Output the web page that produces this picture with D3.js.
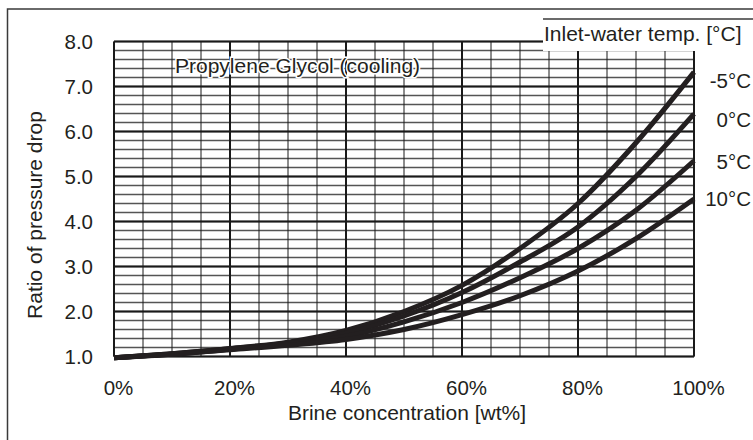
<!DOCTYPE html>
<html>
<head>
<meta charset="utf-8">
<script src="https://cdn.jsdelivr.net/npm/d3@7"></script>
<style>
  body { margin: 0; background: #fff; }
  svg text { font-family: "Liberation Sans", Arial, Helvetica, sans-serif; fill: #231f20; }
</style>
</head>
<body>
<div id="chart"></div>
<script>
// brine concentration [wt%] and pressure drop ratio per inlet-water temperature
const concentration = [0, 10, 20, 30, 40, 50, 60, 70, 80, 90, 100];
const tempLabels = ["-5°C", "0°C", "5°C", "10°C"];
const ratioMinus5 = [0.97, 1.06, 1.18, 1.32, 1.58, 2.0, 2.58, 3.4, 4.4, 5.75, 7.32];
const ratio0 = [0.97, 1.06, 1.17, 1.30, 1.52, 1.9, 2.42, 3.1, 3.88, 5.0, 6.39];
const ratio5 = [0.97, 1.05, 1.16, 1.28, 1.45, 1.77, 2.2, 2.75, 3.4, 4.25, 5.35];
const ratio10 = [0.97, 1.05, 1.15, 1.25, 1.38, 1.6, 1.93, 2.35, 2.9, 3.62, 4.5];
const xTicks = [0, 20, 40, 60, 80, 100];
const yTicks = [1, 2, 3, 4, 5, 6, 7, 8];

const series = [ratioMinus5, ratio0, ratio5, ratio10];
const labelShift = [9, 6, 1, 0];

const width = 753, height = 440;
const plotLeft = 114, plotRight = 694, plotTop = 41.5, plotBottom = 356.5;

const svg = d3.select("#chart").append("svg")
    .attr("width", width)
    .attr("height", height);

// outer frame (runs off the right and bottom edges)
svg.append("rect")
    .attr("x", 7.5).attr("y", 9)
    .attr("width", 800).attr("height", 500)
    .attr("fill", "none")
    .attr("stroke", "#3a3a3a")
    .attr("stroke-width", 1.5);

const x = d3.scaleLinear().domain([0, 100]).range([plotLeft, plotRight]);
const y = d3.scaleLinear().domain([1, 8]).range([plotBottom, plotTop]);

const grid = svg.append("g");

// minor grid, 0.2 steps and 5% steps
grid.selectAll(".hminor")
    .data(d3.range(1, 8.001, 0.2))
    .enter()
    .append("line")
    .attr("x1", plotLeft).attr("x2", plotRight)
    .attr("y1", d => y(d)).attr("y2", d => y(d))
    .attr("stroke", "#555")
    .attr("stroke-width", 1.3);

grid.selectAll(".vminor")
    .data(d3.range(0, 100.001, 5))
    .enter()
    .append("line")
    .attr("x1", d => x(d)).attr("x2", d => x(d))
    .attr("y1", plotTop).attr("y2", plotBottom)
    .attr("stroke", "#1a1a1a")
    .attr("stroke-width", 1);

// major grid
grid.selectAll(".hmajor")
    .data(yTicks)
    .enter()
    .append("line")
    .attr("x1", plotLeft).attr("x2", plotRight)
    .attr("y1", d => y(d)).attr("y2", d => y(d))
    .attr("stroke", "#1a1a1a")
    .attr("stroke-width", 2);

grid.selectAll(".vmajor")
    .data(xTicks)
    .enter()
    .append("line")
    .attr("x1", d => x(d)).attr("x2", d => x(d))
    .attr("y1", plotTop).attr("y2", plotBottom)
    .attr("stroke", "#1a1a1a")
    .attr("stroke-width", 2);

// legend header box sits on top of the grid
svg.append("rect")
    .attr("x", 543).attr("y", 19)
    .attr("width", 220).attr("height", 32)
    .attr("fill", "#fff");
svg.append("line")
    .attr("x1", 543).attr("x2", 753)
    .attr("y1", 19).attr("y2", 19)
    .attr("stroke", "#3a3a3a")
    .attr("stroke-width", 1.5);
svg.append("text")
    .attr("x", 544).attr("y", 41)
    .attr("font-size", 21)
    .text("Inlet-water temp. [°C]");

// axes
const yAxis = svg.append("g")
    .attr("transform", `translate(${plotLeft},0)`)
    .call(d3.axisLeft(y).tickValues(yTicks).tickSize(0).tickPadding(21).tickFormat(d3.format(".1f")));
yAxis.select(".domain").remove();
yAxis.attr("font-family", null).attr("font-size", null);
yAxis.selectAll("text").attr("font-size", 20.5);

const xAxis = svg.append("g")
    .attr("transform", `translate(0,${plotBottom})`)
    .call(d3.axisBottom(x).tickValues(xTicks).tickSize(0).tickPadding(24).tickFormat(d => d + "%"));
xAxis.select(".domain").remove();
xAxis.attr("font-family", null).attr("font-size", null);
xAxis.selectAll("text").attr("font-size", 20.5).attr("dx", 4);

svg.append("text")
    .attr("x", 407).attr("y", 420)
    .attr("text-anchor", "middle")
    .attr("font-size", 21)
    .text("Brine concentration [wt%]");

svg.append("text")
    .attr("transform", "translate(42,215) rotate(-90)")
    .attr("text-anchor", "middle")
    .attr("font-size", 21)
    .text("Ratio of pressure drop");

svg.append("text")
    .attr("x", 175).attr("y", 73)
    .attr("font-size", 21)
    .attr("stroke", "#fff")
    .attr("stroke-width", 3)
    .attr("paint-order", "stroke")
    .text("Propylene Glycol (cooling)");

// curves
const line = d3.line()
    .x((d, i) => x(concentration[i]))
    .y(d => y(d))
    .curve(d3.curveMonotoneX);

svg.selectAll(".curve")
    .data(series)
    .enter()
    .append("path")
    .attr("d", line)
    .attr("fill", "none")
    .attr("stroke", "#231f20")
    .attr("stroke-width", 5);

svg.selectAll(".tlabel")
    .data(series)
    .enter()
    .append("text")
    .attr("x", 751)
    .attr("y", (d, i) => y(d[d.length - 1]) + labelShift[i])
    .attr("dy", "0.35em")
    .attr("text-anchor", "end")
    .attr("font-size", 20.5)
    .text((d, i) => tempLabels[i]);
</script>
</body>
</html>
